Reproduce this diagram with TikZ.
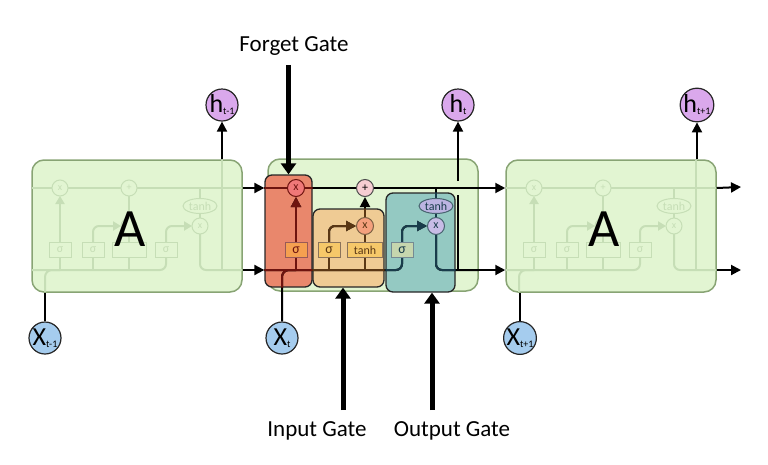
\documentclass[tikz,border=0pt]{standalone}
\usepackage{fontspec}
\setmainfont{Carlito}
\usetikzlibrary{positioning,arrows.meta,calc,shapes.geometric}

\definecolor{cellFill}{RGB}{226,245,210}
\definecolor{cellDraw}{RGB}{136,164,116}
\definecolor{ghostC}{RGB}{198,222,182}
\definecolor{fgateFill}{RGB}{233,135,108}
\definecolor{igateFill}{RGB}{239,203,148}
\definecolor{ogateFill}{RGB}{148,201,194}
\definecolor{fWire}{RGB}{110,20,15}
\definecolor{iWire}{RGB}{90,55,20}
\definecolor{oWire}{RGB}{25,60,75}
\definecolor{hFill}{RGB}{218,168,236}
\definecolor{xFill}{RGB}{165,204,238}
\definecolor{fxFill}{RGB}{240,120,120}
\definecolor{plusFill}{RGB}{246,205,210}
\definecolor{ixFill}{RGB}{244,160,125}
\definecolor{oxFill}{RGB}{200,188,230}
\definecolor{othFill}{RGB}{188,180,225}
\definecolor{fsFill}{RGB}{245,160,80}
\definecolor{isFill}{RGB}{246,200,105}
\definecolor{osFill}{RGB}{198,214,174}

\pgfdeclarelayer{cells}
\pgfdeclarelayer{wires}
\pgfsetlayers{cells,wires,main}

% letter with a small index, for the h and x circles
\newcommand{\vsub}[2]{{\fontsize{26}{26}\selectfont #1}\raisebox{-2pt}{\fontsize{10}{10}\selectfont #2}}

% wires inside the middle cell (drawn black, then again in each gate colour)
\newcommand{\midwires}{%
    \draw (fgate.west|-fx) -- (M.east|-fx);
    \draw[rounded corners=6pt] (fgate.west|-bl) -| (os.south);
    \draw[rounded corners=7pt] (x2.north) |- (fs|-bl);
    \draw (fs|-bl) -- (fs.south);
    \draw[->] (fs.north) -- (fx.south);
    \draw (is|-bl) -- (is.south);
    \draw[->, rounded corners=6pt] (is.north) |- (ix.west);
    \draw (it|-bl) -- (it.south);
    \draw (it.north) -- (ix.south);
    \draw[->] (ix.north) -- (plus.south);
    \draw[->, rounded corners=6pt] (os.north) |- (ox.west);
    \draw (ox|-fx) -- (oth.north);
    \draw (oth.south) -- (ox.north);
    \draw[rounded corners=6pt] (ox.south) |- (M.east|-bl);
}

\begin{document}
\begin{tikzpicture}[
    x=1pt, y=-1pt,
    >={Triangle[length=10pt,width=10pt]},
    cell/.style={
        draw=cellDraw,
        line width=1.5pt,
        fill=cellFill,
        rounded corners=12pt,
        minimum width=210pt,
        minimum height=132pt,
        inner sep=0pt
    },
    gatebox/.style={
        draw=black!85,
        line width=1.3pt,
        rounded corners=7pt,
        inner sep=0pt
    },
    wire/.style={
        line width=2pt,
        color=black
    },
    bigarrow/.style={
        line width=5pt,
        -{Triangle[length=11pt,width=15pt]}
    },
    vecnode/.style={
        circle,
        draw=black!85,
        line width=1.2pt,
        minimum size=32pt,
        inner sep=0pt
    },
    op/.style={
        circle,
        line width=1pt,
        minimum size=17pt,
        inner sep=0pt,
        font=\fontsize{12}{12}\selectfont
    },
    layer/.style={
        rectangle,
        line width=1pt,
        minimum width=22pt,
        minimum height=15pt,
        inner sep=0pt,
        font=\fontsize{14}{14}\selectfont
    },
    gatelabel/.style={
        font=\fontsize{23}{23}\selectfont
    },
    bigA/.style={
        font=\fontsize{54}{54}\selectfont
    },
    ghostwire/.style={
        line width=2pt,
        color=ghostC
    },
    ghostop/.style={
        circle, draw=ghostC, line width=1pt, minimum size=16pt,
        inner sep=0pt, text=ghostC, font=\fontsize{10}{10}\selectfont
    },
    ghostlayer/.style={
        draw=ghostC, line width=1pt, minimum height=15pt,
        inner sep=0pt, text=ghostC, font=\fontsize{12}{12}\selectfont
    },
    ghost/.pic={
        \begin{scope}[ghostwire]
            \draw (-105,-38) -- (105,-38);
            \draw[rounded corners=6pt] (-105,44) -| (29,31);
            \draw[rounded corners=7pt] (-92,66) |- (-77,44);
            \draw (-77,44) -- (-77,31);
            \draw[-{Triangle[length=8pt,width=9pt]}] (-77,17) -- (-77,-30);
            \draw (-44,44) -- (-44,31);
            \draw[rounded corners=6pt,-{Triangle[length=8pt,width=9pt]}] (-44,17) |- (-16,0);
            \draw (-8,44) -- (-8,-30);
            \draw[rounded corners=6pt,-{Triangle[length=8pt,width=9pt]}] (29,17) |- (55,0);
            \draw (63,-38) -- (63,-7);
            \draw[rounded corners=6pt] (63,7) |- (105,44);
            \draw (85,44) -- (85,-66);
        \end{scope}
        \node[ghostop, fill=cellFill] (-fx) at (-77,-38) {x};
        \node[ghostop, fill=cellFill] (-plus) at (-8,-38) {+};
        \node[ghostop, fill=cellFill] (-ix) at (-8,0) {};
        \node[ghostop, fill=cellFill] (-ox) at (63,0) {x};
        \node[ghostlayer, ellipse, minimum width=34pt, fill=cellFill] (-oth) at (63,-20) {tanh};
        \node[ghostlayer, minimum width=22pt, fill=cellFill] (-fs) at (-77,24) {σ};
        \node[ghostlayer, minimum width=22pt, fill=cellFill] (-is) at (-44,24) {σ};
        \node[ghostlayer, minimum width=34pt, fill=cellFill] (-it) at (-8,24) {};
        \node[ghostlayer, minimum width=22pt, fill=cellFill] (-os) at (29,24) {σ};
    }
]
    \useasboundingbox (0,0) rectangle (768,464);

    % ---------------------------------------------------------
    % CELLS AND GATE BOXES
    % ---------------------------------------------------------
    \begin{pgfonlayer}{cells}
        \node[cell] (A1) at (137,226) {};
        \node[cell] (M) at (373,225) {};
        \node[cell] (A3) at (611,226) {};

        \node[gatebox, fill=fgateFill, minimum width=47pt, minimum height=112pt] (fgate) at (288.5,231) {};
        \node[gatebox, fill=igateFill, minimum width=71pt, minimum height=78pt] (igate) at (348.5,248) {};
        \node[gatebox, fill=ogateFill, minimum width=69pt, minimum height=99pt] (ogate) at (420.5,242.5) {};
    \end{pgfonlayer}

    % faded inside of the two outer cells
    \pic (g1) at (A1) {ghost};
    \pic (g3) at (A3) {ghost};
    \node[bigA] (A1t) at ($(A1)+(-7,3)$) {A};
    \node[bigA] (A3t) at ($(A3)+(-7,3)$) {A};

    % ---------------------------------------------------------
    % INPUTS AND OUTPUTS
    % ---------------------------------------------------------
    \node[vecnode, fill=hFill] (h1) at (222,105) {\vsub{h}{t-1}};
    \node[vecnode, fill=hFill] (h2) at (458,105) {\vsub{h}{t}};
    \node[vecnode, fill=hFill] (h3) at (697,105) {\vsub{h}{t+1}};
    \node[vecnode, fill=xFill] (x1) at (45,338) {\vsub{X}{t-1}};
    \node[vecnode, fill=xFill] (x2) at (282,338) {\vsub{X}{t}};
    \node[vecnode, fill=xFill] (x3) at (520,338) {\vsub{X}{t+1}};

    % ---------------------------------------------------------
    % MIDDLE CELL: OPERATIONS AND LAYERS
    % ---------------------------------------------------------
    \coordinate (bl) at (0,270);
    \node[op, draw=fWire, fill=fxFill, text=fWire] (fx) at (296,188) {x};
    \node[op, draw=black!70, fill=plusFill] (plus) at (365,188) {+};
    \node[op, draw=iWire!80, fill=ixFill, text=iWire] (ix) at (365,226) {x};
    \node[op, draw=oWire!80, fill=oxFill, text=oWire] (ox) at (436,226) {x};
    \node[layer, ellipse, draw=oWire!80, fill=othFill, text=oWire, minimum width=34pt, minimum height=15pt, font=\fontsize{12}{12}\selectfont] (oth) at (436,206) {tanh};
    \node[layer, draw=fWire!70, fill=fsFill, text=fWire] (fs) at (296,250) {σ};
    \node[layer, draw=iWire!70, fill=isFill, text=iWire] (is) at (329,250) {σ};
    \node[layer, draw=iWire!70, fill=isFill, text=iWire, minimum width=35pt, font=\fontsize{12}{12}\selectfont] (it) at (365,250) {tanh};
    \node[layer, draw=oWire!60, fill=osFill, text=oWire] (os) at (402,250) {σ};

    % wires, black first, then recoloured inside each gate
    \begin{pgfonlayer}{wires}
        \begin{scope}[wire]
            \midwires
        \end{scope}
        \begin{scope}
            \clip[rounded corners=7pt] (fgate.south west) rectangle (fgate.north east);
            \begin{scope}[wire, color=fWire] \midwires \end{scope}
        \end{scope}
        \begin{scope}
            \clip[rounded corners=7pt] (igate.south west) rectangle (igate.north east);
            \begin{scope}[wire, color=iWire] \midwires \end{scope}
        \end{scope}
        \begin{scope}
            \clip[rounded corners=7pt] (ogate.south west) rectangle (ogate.north east);
            \begin{scope}[wire, color=oWire] \midwires \end{scope}
        \end{scope}
    \end{pgfonlayer}

    % ---------------------------------------------------------
    % ARROWS BETWEEN CELLS
    % ---------------------------------------------------------
    \coordinate (out1) at (741,187);
    \coordinate (out2) at (741,270);
    \draw[wire, ->] (A1.east|-fx) -- (fgate.west|-fx);
    \draw[wire, ->] (A1.east|-bl) -- (fgate.west|-bl);
    \draw[wire, ->] (M.east|-fx) -- (A3.west|-fx);
    \draw[wire, ->] (M.east|-bl) -- (A3.west|-bl);
    \draw[wire, ->] (A3.east|-fx) -- (out1);
    \draw[wire, ->] (A3.east|-bl) -- (out2);

    \draw[wire, ->] (h1|-A1.north) -- (h1.south);
    \draw[wire, ->] (h3|-A3.north) -- (h3.south);
    \draw[wire] (h2|-bl) -- ($(h2|-fx)+(0,7)$);
    \draw[wire, ->] ($(h2|-fx)+(0,-7)$) -- (h2.south);
    \draw[wire] (x1.north) -- (x1|-A1.south);
    \draw[wire] (x3.north) -- (x3|-A3.south);

    % ---------------------------------------------------------
    % GATE LABELS
    % ---------------------------------------------------------
    \node[gatelabel] (flab) at (294,46) {Forget Gate};
    \node[gatelabel] (ilab) at (317,431) {Input Gate};
    \node[gatelabel] (olab) at (452,431) {Output Gate};
    \coordinate (iarr) at (343,410);
    \coordinate (oarr) at (432,410);

    \draw[bigarrow] (fgate|-flab.south) ++(0,6) -- (fgate.north);
    \draw[bigarrow] (iarr) -- (iarr|-igate.south);
    \draw[bigarrow] (oarr) -- (oarr|-ogate.south);

\end{tikzpicture}
\end{document}
